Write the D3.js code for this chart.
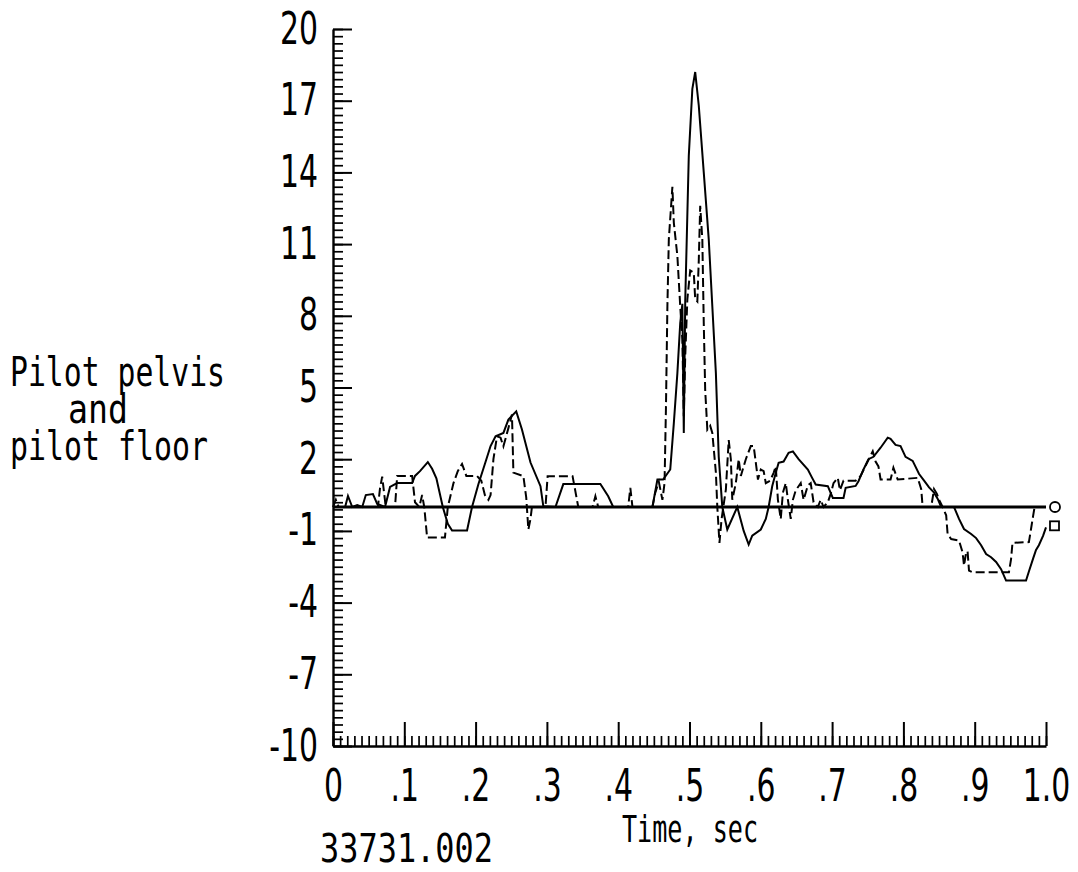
<!DOCTYPE html>
<html>
<head>
<meta charset="utf-8">
<script src="https://cdn.jsdelivr.net/npm/d3@7"></script>
<style>
  html, body { margin: 0; padding: 0; background: #fff; }
  svg { display: block; }
  text { font-family: "DejaVu Sans", sans-serif; fill: #000; }
  text.lettering { font-family: "DejaVu Sans Mono", monospace; }
</style>
</head>
<body>
<div id="chart"></div>
<script>
// pilot pelvis trace (solid) as [time, value]
const pelvis = [
  [0,0],[0.017,0],[0.021,0.46],[0.027,0],[0.034,0.08],[0.041,0],[0.046,0.5],[0.056,0.54],[0.062,0.13],
  [0.073,0],[0.080,0.84],[0.090,1.0],[0.111,1.0],[0.115,1.3],[0.122,1.5],[0.133,1.88],[0.139,1.6],
  [0.145,1.2],[0.154,0],[0.161,-0.7],[0.167,-0.98],[0.188,-0.98],[0.195,0],[0.204,0.96],[0.213,1.8],
  [0.221,2.55],[0.228,2.96],[0.239,3.1],[0.246,3.66],[0.257,4.0],[0.265,3.24],[0.277,1.86],[0.291,0.87],
  [0.295,0.03],[0.312,0],[0.323,0.96],[0.375,0.96],[0.386,0.45],[0.393,0],[0.448,0],[0.455,1.15],
  [0.463,1.15],[0.473,1.57],[0.478,3.5],[0.483,5.6],[0.487,7.7],[0.490,8.5],[0.492,3.1],[0.494,8.6],
  [0.499,14.7],[0.504,17.5],[0.508,18.2],[0.513,16.8],[0.520,14.0],[0.527,11.2],[0.532,8.4],[0.537,5.6],
  [0.541,2.1],[0.546,0],[0.553,-0.94],[0.567,0],[0.576,-1.0],[0.583,-1.57],[0.588,-1.2],[0.600,-0.94],
  [0.607,-0.5],[0.611,0],[0.616,0.87],[0.621,1.43],[0.625,1.85],[0.632,1.9],[0.639,2.27],[0.645,2.33],
  [0.653,2.0],[0.666,1.57],[0.672,1.22],[0.677,0.94],[0.694,0.87],[0.701,0.38],[0.716,0.38],[0.719,0.8],
  [0.733,0.88],[0.737,1.08],[0.744,1.57],[0.751,2.0],[0.758,2.1],[0.768,2.48],[0.778,2.9],[0.782,2.85],
  [0.789,2.6],[0.796,2.55],[0.803,2.1],[0.813,1.93],[0.822,1.38],[0.829,1.1],[0.836,0.82],[0.843,0.6],
  [0.848,0.35],[0.853,0],[0.871,0],[0.878,-0.5],[0.885,-0.92],[0.895,-1.13],[0.902,-1.3],[0.909,-1.6],
  [0.916,-1.97],[0.923,-2.1],[0.930,-2.3],[0.937,-2.6],[0.944,-3.08],[0.972,-3.08],[0.976,-2.7],
  [0.982,-2.15],[0.986,-1.8],[0.990,-1.6],[0.996,-1.2],[1.0,-0.85]
];

// pilot floor trace (dashed) as [time, value]
const floor = [
  [0,0],[0.004,0.3],[0.008,0],[0.063,0],[0.066,0.8],[0.069,1.27],[0.072,0.5],[0.074,0],[0.087,0],
  [0.090,1.3],[0.111,1.3],[0.115,0.2],[0.121,0],[0.125,0.5],[0.128,0],[0.132,-1.28],[0.157,-1.28],
  [0.161,0],[0.169,1.0],[0.175,1.5],[0.181,1.8],[0.187,1.3],[0.202,1.3],[0.208,1.1],[0.213,0.5],
  [0.218,0.3],[0.221,0.5],[0.225,2.0],[0.230,2.96],[0.235,2.9],[0.239,2.54],[0.246,3.3],[0.251,3.87],
  [0.253,1.44],[0.267,1.29],[0.271,0.4],[0.274,-0.94],[0.277,-0.5],[0.279,0],[0.298,0],[0.301,1.29],
  [0.336,1.29],[0.344,0],[0.364,0],[0.368,0.45],[0.372,0],[0.414,0],[0.417,0.8],[0.420,0],[0.448,0],
  [0.452,0.6],[0.457,1.05],[0.462,0.3],[0.465,1.0],[0.467,4.2],[0.469,8.4],[0.471,11.2],[0.476,13.4],
  [0.478,11.9],[0.483,10.5],[0.487,8.4],[0.490,7.0],[0.492,3.8],[0.494,6.3],[0.497,8.7],[0.501,9.9],
  [0.506,9.8],[0.508,8.7],[0.511,8.6],[0.513,10.3],[0.515,12.6],[0.518,11.2],[0.520,7.7],[0.522,4.9],
  [0.525,3.24],[0.529,3.4],[0.532,3.1],[0.537,1.44],[0.539,0],[0.542,-1.5],[0.545,-0.5],[0.551,0.73],
  [0.555,2.8],[0.558,2.0],[0.560,0.3],[0.565,1.0],[0.569,2.0],[0.572,1.3],[0.579,2.0],[0.586,2.55],
  [0.590,2.55],[0.593,1.86],[0.596,1.15],[0.600,1.57],[0.604,1.5],[0.607,1.0],[0.613,1.1],[0.618,1.43],
  [0.621,1.7],[0.624,0.3],[0.628,-0.5],[0.631,0.6],[0.635,1.0],[0.638,0.3],[0.642,-0.5],[0.645,0.3],
  [0.649,0.7],[0.653,0.87],[0.656,1.0],[0.660,0.3],[0.666,0.9],[0.670,1.0],[0.674,0.2],[0.680,0],
  [0.684,0.3],[0.688,0],[0.694,0.2],[0.698,0.55],[0.702,1.0],[0.708,1.22],[0.711,0.7],[0.716,1.1],
  [0.733,1.1],[0.740,1.3],[0.749,1.85],[0.757,2.33],[0.761,1.9],[0.765,1.7],[0.768,1.15],[0.782,1.15],
  [0.786,1.64],[0.792,1.15],[0.820,1.22],[0.825,0.75],[0.827,0],[0.839,0],[0.843,0.75],[0.847,0.55],
  [0.850,0.3],[0.855,0],[0.860,-0.35],[0.862,-1.13],[0.867,-1.34],[0.878,-1.4],[0.883,-1.9],
  [0.885,-2.45],[0.888,-1.9],[0.890,-1.85],[0.892,-2.66],[0.897,-2.73],[0.948,-2.73],[0.951,-2.18],
  [0.953,-1.5],[0.976,-1.47],[0.979,-0.92],[0.982,-0.36],[0.984,0],[1.0,0]
];

const yTicks = [-10, -7, -4, -1, 2, 5, 8, 11, 14, 17, 20];
const xTicks = [0, 0.1, 0.2, 0.3, 0.4, 0.5, 0.6, 0.7, 0.8, 0.9, 1.0];
const xTickLabels = ["0", ".1", ".2", ".3", ".4", ".5", ".6", ".7", ".8", ".9", "1.0"];
const yLabelLines = ["Pilot pelvis", "and", "pilot floor"];
const xTitle = "Time, sec";
const figureId = "33731.002";

document.addEventListener('DOMContentLoaded', () => {

    let width = 1078, height = 872;
    // the lettering on the original is a narrow one, so squeeze the digits sideways
    const squeeze = "scale(0.68,1)";

    const svg = d3.select("#chart")
        .append("svg")
        .attr("width", width)
        .attr("height", height);

    const x = d3.scaleLinear().domain([0, 1]).range([333, 1046]);
    const y = d3.scaleLinear().domain([-10, 20]).range([746, 29]);

    // minor ticks first (x every .01, y every .3)
    const xMinor = d3.range(0, 101).map(i => i / 100);
    const yMinor = d3.range(0, 101).map(i => -10 + i * 0.3);

    svg.append("g")
        .attr("transform", `translate(0,${y(-10)})`)
        .call(d3.axisBottom(x).tickValues(xMinor).tickSizeInner(-10).tickSizeOuter(0).tickFormat(""))
        .call(g => g.select(".domain").remove())
        .call(g => g.selectAll("line").attr("stroke-width", 1.7));

    svg.append("g")
        .attr("transform", `translate(${x(0)},0)`)
        .call(d3.axisLeft(y).tickValues(yMinor).tickSizeInner(-10).tickSizeOuter(0).tickFormat(""))
        .call(g => g.select(".domain").remove())
        .call(g => g.selectAll("line").attr("stroke-width", 1.7));

    // major axes
    const xAxis = svg.append("g")
        .attr("transform", `translate(0,${y(-10)})`)
        .call(d3.axisBottom(x)
            .tickValues(xTicks)
            .tickSizeInner(-24)
            .tickSizeOuter(0)
            .tickPadding(24)
            .tickFormat((d, i) => xTickLabels[i]));
    xAxis.select(".domain").attr("stroke-width", 2.4);
    xAxis.selectAll("line").attr("stroke-width", 2);
    xAxis.selectAll("text")
        .attr("font-size", 44)
        .attr("transform", squeeze);

    const yAxis = svg.append("g")
        .attr("transform", `translate(${x(0)},0)`)
        .call(d3.axisLeft(y)
            .tickValues(yTicks)
            .tickSizeInner(-19)
            .tickSizeOuter(0)
            .tickPadding(15));
    yAxis.select(".domain").attr("stroke-width", 2.4);
    yAxis.selectAll("line").attr("stroke-width", 2);
    yAxis.selectAll("text")
        .attr("font-size", 44)
        .attr("x", 0)
        .attr("transform", `translate(-15,0) ${squeeze}`)
        .text(d => d < 0 ? "-" + Math.abs(d) : d);

    svg.selectAll("g").attr("font-family", null);

    // zero reference line
    svg.append("line")
        .attr("x1", x(0)).attr("x2", x(1))
        .attr("y1", y(0)).attr("y2", y(0))
        .attr("stroke", "#000")
        .attr("stroke-width", 3);

    const line = d3.line()
        .x(d => x(d[0]))
        .y(d => y(d[1]));

    svg.append("path")
        .datum(floor)
        .attr("fill", "none")
        .attr("stroke", "#000")
        .attr("stroke-width", 2)
        .attr("stroke-dasharray", "9,4")
        .attr("d", line);

    svg.append("path")
        .datum(pelvis)
        .attr("fill", "none")
        .attr("stroke", "#000")
        .attr("stroke-width", 2)
        .attr("d", line);

    // end symbols: circle for floor, square for pelvis
    let lastFloor = floor[floor.length - 1];
    let lastPelvis = pelvis[pelvis.length - 1];
    svg.append("circle")
        .attr("cx", x(lastFloor[0]) + 9)
        .attr("cy", y(lastFloor[1]))
        .attr("r", 5)
        .attr("fill", "#fff")
        .attr("stroke", "#000")
        .attr("stroke-width", 1.8);
    svg.append("rect")
        .attr("x", x(lastPelvis[0]) + 4)
        .attr("y", y(lastPelvis[1]) - 6)
        .attr("width", 9)
        .attr("height", 9)
        .attr("fill", "#fff")
        .attr("stroke", "#000")
        .attr("stroke-width", 1.8);

    // titles, in an evenly spaced lettering like the original
    svg.append("text")
        .attr("class", "lettering")
        .attr("x", 622)
        .attr("y", 842)
        .attr("font-size", 38)
        .attr("textLength", 136)
        .attr("lengthAdjust", "spacingAndGlyphs")
        .text(xTitle);

    svg.append("text")
        .attr("class", "lettering")
        .attr("x", 320)
        .attr("y", 862)
        .attr("font-size", 39)
        .attr("textLength", 173)
        .attr("lengthAdjust", "spacingAndGlyphs")
        .text(figureId);

    const sideWidths = [215, 60, 198];
    svg.append("g")
        .selectAll("text")
        .data(yLabelLines)
        .join("text")
        .attr("class", "lettering")
        .attr("x", (d, i) => i === 1 ? 68 : 10)
        .attr("y", (d, i) => 386 + i * 37)
        .attr("font-size", 40)
        .attr("textLength", (d, i) => sideWidths[i])
        .attr("lengthAdjust", "spacingAndGlyphs")
        .text(d => d);
});
</script>
</body>
</html>
